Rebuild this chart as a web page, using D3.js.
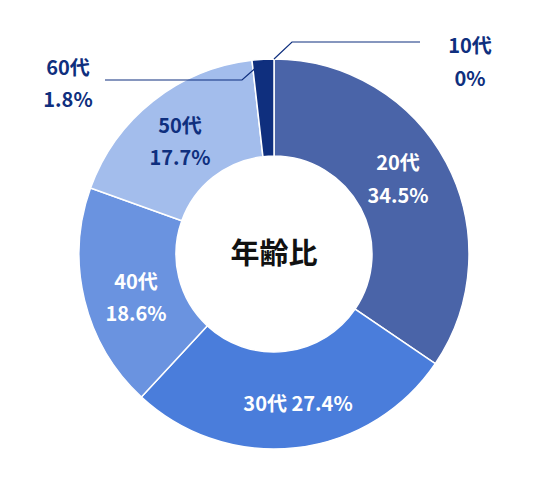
<!DOCTYPE html>
<html>
<head>
<script src="https://cdn.jsdelivr.net/npm/d3@7"></script>
<style>
  body { margin: 0; background: #fff; }
  text { font-family: "Noto Sans CJK JP", "Noto Sans", sans-serif; font-weight: 700; }
</style>
</head>
<body>
<div id="chart"></div>
<script>
const ages = ['10代', '20代', '30代', '40代', '50代', '60代'];
const shares = [0, 34.5, 27.4, 18.6, 17.7, 1.8];
const shareLabels = ['0%', '34.5%', '27.4%', '18.6%', '17.7%', '1.8%'];
const colors = ['#0f2f7e', '#4a64a8', '#4a7ddb', '#6a93e0', '#a3bdec', '#0f2f7e'];

const W = 548, H = 479, cx = 274, cy = 254, R = 195, r0 = 98;
const navy = '#0f2f7e';

const svg = d3.select('#chart').append('svg').attr('width', W).attr('height', H);
const g = svg.append('g').attr('transform', `translate(${cx},${cy})`);

const pie = d3.pie().sort(null).value(d => d)(shares);
const arc = d3.arc().innerRadius(r0).outerRadius(R);

g.selectAll('path').data(pie).enter().append('path')
  .attr('d', arc)
  .attr('fill', (d, i) => colors[i])
  .attr('stroke', '#fff')
  .attr('stroke-width', d => d.value > 0 ? 1.5 : 0);

// inside labels: [index, x, y lines, fill]
const inside = [
  {i: 1, x: 398, ys: [163, 196], fill: '#fff'},
  {i: 3, x: 136, ys: [282, 314], fill: '#fff'},
  {i: 4, x: 180, ys: [126, 158], fill: navy}
];
inside.forEach(o => {
  [ages[o.i], shareLabels[o.i]].forEach((t, k) => {
    svg.append('text').attr('x', o.x).attr('y', o.ys[k] + 7)
      .attr('text-anchor', 'middle').attr('font-size', 20).attr('fill', o.fill).text(t);
  });
});
svg.append('text').attr('x', 298).attr('y', 411).attr('text-anchor', 'middle')
  .attr('font-size', 20).attr('fill', '#fff').text(ages[2] + ' ' + shareLabels[2]);

// outside labels
[{i: 5, x: 68, ys: [68, 100]}, {i: 0, x: 470, ys: [46, 79]}].forEach(o => {
  [ages[o.i], shareLabels[o.i]].forEach((t, k) => {
    svg.append('text').attr('x', o.x).attr('y', o.ys[k] + 7)
      .attr('text-anchor', 'middle').attr('font-size', 20).attr('fill', navy).text(t);
  });
});

// leader lines
const a60 = (pie[5].startAngle + pie[5].endAngle) / 2;
const p60 = [cx + Math.sin(a60) * (R - 2), cy - Math.cos(a60) * (R - 2)];
svg.append('polyline').attr('fill', 'none').attr('stroke', navy).attr('stroke-width', 1.2)
  .attr('points', `105,80 242,80 ${p60[0]},${p60[1]}`);
svg.append('polyline').attr('fill', 'none').attr('stroke', navy).attr('stroke-width', 1.2)
  .attr('points', `${cx},${cy - R} 292,42 420,42`);

svg.append('text').attr('x', cx).attr('y', cy + 10).attr('text-anchor', 'middle')
  .attr('font-size', 29).attr('fill', '#111').text('年齢比');
</script>
</body>
</html>
